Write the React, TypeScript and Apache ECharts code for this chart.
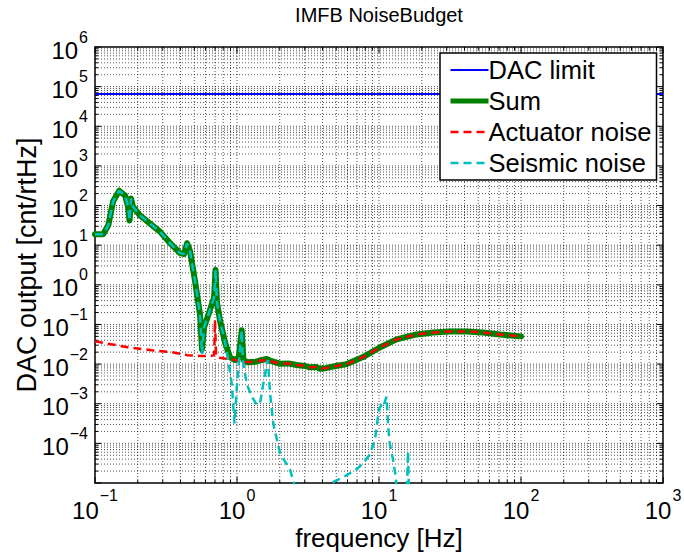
import React, { useEffect, useRef } from "react";
import * as echarts from "echarts";

// ---- data -------------------------------------------------------------
const dacFreq = [0.1, 1000];
const dacLimit = [65536, 65536];

const sumFreq = [
  0.1, 0.114, 0.124, 0.134, 0.148, 0.163, 0.171, 0.175, 0.1795, 0.185, 0.208,
  0.244, 0.287, 0.338, 0.397, 0.424, 0.445, 0.467, 0.506, 0.549, 0.567, 0.586,
  0.646, 0.689, 0.706, 0.723, 0.759, 0.823, 0.893, 0.968, 1.03, 1.08, 1.11,
  1.18, 1.36, 1.5, 1.62, 1.75, 2.01, 2.3, 2.63, 3.0, 3.27, 3.6, 3.84, 4.2,
  4.52, 5.2, 5.93, 7.71, 10.2, 13.3, 18.4, 24, 31.6, 41.5, 54, 71, 100,
];
const sumValues = [
  18.8, 18.8, 31.6, 126, 237, 178, 94, 42, 150, 94, 56,
  35, 22, 11.2, 6.3, 6.0, 11.2, 7.1, 1.26, 0.178, 0.0237, 0.084,
  0.237, 0.47, 2.37, 0.355, 0.126, 0.0355, 0.015, 0.0126, 0.015, 0.071, 0.0127,
  0.0112, 0.0115, 0.0127, 0.0135, 0.0118, 0.0102, 0.0104, 0.0095, 0.009, 0.0083, 0.0085, 0.0076, 0.0079,
  0.0084, 0.0092, 0.01, 0.015, 0.0266, 0.042, 0.056, 0.063, 0.0668, 0.0668, 0.063, 0.056, 0.05,
];

const actuatorFreq = [
  0.1, 0.13, 0.17, 0.25, 0.35, 0.45, 0.55, 0.65, 0.69, 0.7, 0.712, 0.75,
  0.82, 0.9, 1.0, 1.08, 1.18, 1.36, 1.5, 1.62, 1.75, 2.01, 2.3, 2.63, 3.0,
  3.27, 3.6, 3.84, 4.2, 4.52, 5.2, 5.93, 7.71, 10.2, 13.3, 18.4, 24, 31.6,
  41.5, 54, 71, 100,
];
const actuatorValues = [
  0.0376, 0.0316, 0.0267, 0.0224, 0.02, 0.0168, 0.016, 0.0158, 0.017, 0.13, 0.016, 0.0145,
  0.0138, 0.0133, 0.0125, 0.012, 0.0112, 0.0115, 0.0125, 0.0122, 0.0116, 0.0102, 0.0104, 0.0095, 0.009,
  0.0083, 0.0085, 0.0076, 0.0079, 0.0084, 0.0092, 0.01, 0.015, 0.0266, 0.042, 0.056, 0.063, 0.0668,
  0.0668, 0.063, 0.056, 0.05,
];

const seismicFreq = [
  0.1, 0.114, 0.124, 0.134, 0.148, 0.163, 0.171, 0.175, 0.1795, 0.185, 0.208,
  0.244, 0.287, 0.338, 0.397, 0.424, 0.445, 0.467, 0.506, 0.549, 0.567, 0.586,
  0.646, 0.689, 0.706, 0.723, 0.759, 0.823, 0.87, 0.92, 0.96, 1.0, 1.05, 1.08,
  1.1, 1.17, 1.27, 1.38, 1.45, 1.52, 1.62, 1.65, 1.71, 1.8, 2.01, 2.36, 2.56,
  3.2, 4.0, 4.64, 5.77, 6.25, 7.11, 7.71, 8.65, 9.37, 9.68, 10.0, 10.45, 10.7,
  11.3, 11.6, 11.9, 12.5, 13.0, 13.5, 14.5, 15.6, 16.0, 16.4, 20, 50, 100,
];
const seismicValues = [
  18.8, 18.8, 31.6, 126, 237, 178, 94, 42, 150, 94, 56,
  35, 22, 11.2, 6.3, 6.0, 11.2, 7.1, 1.26, 0.178, 0.018, 0.084,
  0.237, 0.47, 2.37, 0.355, 0.126, 0.0355, 0.012, 0.003, 3.2e-4, 0.003, 0.025, 0.071,
  0.0126, 3.2e-3, 1.5e-3, 9.4e-4, 9.9e-4, 2.7e-3, 0.01, 0.0126, 1.8e-3, 3.2e-4, 5.6e-5, 2.2e-5, 8e-6,
  1e-6, 3e-6, 1e-5, 1.5e-5, 1.78e-5, 2.37e-5, 3.16e-5, 5.3e-5, 1.26e-4, 3e-4, 7.5e-4, 9.4e-4, 8.5e-4,
  1.5e-3, 2.7e-4, 1e-4, 4.2e-5, 1.8e-5, 5e-6, 1e-6, 2e-6, 6.3e-5, 2e-6, 1e-7, 1e-8, 1e-9,
];

const X_MIN = 0.1;
const X_MAX = 1000;
const Y_MIN = 1e-5;
const Y_MAX = 1e6;

// decade grid positions (1..9 x 10^n), flagged 1 for the decade itself
const decadeSteps = (lo: number, hi: number) => {
  const out: number[][] = [];
  for (let e = lo; e < hi; e++) {
    for (let k = 1; k <= 9; k++) out.push([k * Math.pow(10, e), k === 1 ? 1 : 0]);
  }
  out.push([Math.pow(10, hi), 1]);
  return out;
};
const xGridValues = decadeSteps(-1, 3);
const yGridValues = decadeSteps(-5, 6);

const FONT = "'Liberation Sans', Arial, Helvetica, sans-serif";
const BASE_SIZE = 24;
const SUP_SIZE = 16;

// "10" with a raised exponent, built from two text pieces
const exponentText = (v: number) => {
  const e = Math.round(Math.log10(v));
  return e < 0 ? "\u2212" + -e : String(e);
};
const supWidth = (s: string) =>
  s.split("").reduce((w, ch) => w + (ch === "\u2212" ? 0.584 : 0.556) * SUP_SIZE, 0);
const BASE_WIDTH = 2 * 0.556 * BASE_SIZE;

const powerLabel = (v: number, left: number, baseCy: number, supCy: number) => {
  const sup = exponentText(v);
  return [
    {
      type: "text",
      x: left,
      y: baseCy,
      style: { text: "10", fontSize: BASE_SIZE, fontFamily: FONT, fill: "#000", align: "left", verticalAlign: "middle" },
    },
    {
      type: "text",
      x: left + BASE_WIDTH + 1,
      y: supCy,
      style: { text: sup, fontSize: SUP_SIZE, fontFamily: FONT, fill: "#000", align: "left", verticalAlign: "middle" },
    },
  ];
};

const GRID_STYLE = { stroke: "#000", lineWidth: 1, lineDash: [1, 2], opacity: 0.68 };
const TICK_STYLE = { stroke: "#000", lineWidth: 1 };

export default function App() {
  const ref = useRef<HTMLDivElement>(null);

  useEffect(() => {
    if (!ref.current) return;
    const chart = echarts.init(ref.current, null, { renderer: "svg" });

    const verticalGrid = (params: any, api: any) => {
      const x = api.value(0);
      const major = api.value(1) === 1;
      const pb = api.coord([x, Y_MIN]);
      const pt = api.coord([x, Y_MAX]);
      const len = major ? 6 : 3;
      const children: any[] = [];
      if (x > X_MIN * 1.001 && x < X_MAX * 0.999) {
        children.push({ type: "line", shape: { x1: pb[0], y1: pb[1], x2: pt[0], y2: pt[1] }, style: GRID_STYLE });
      }
      children.push({ type: "line", shape: { x1: pb[0], y1: pb[1], x2: pb[0], y2: pb[1] - len }, style: TICK_STYLE });
      children.push({ type: "line", shape: { x1: pt[0], y1: pt[1], x2: pt[0], y2: pt[1] + len }, style: TICK_STYLE });
      if (major) {
        const total = BASE_WIDTH + 1 + supWidth(exponentText(x));
        children.push(...powerLabel(x, pb[0] - total / 2, pb[1] + 27, pb[1] + 12));
      }
      return { type: "group", children };
    };

    const horizontalGrid = (params: any, api: any) => {
      const y = api.value(1);
      const major = api.value(2) === 1;
      const pl = api.coord([X_MIN, y]);
      const pr = api.coord([X_MAX, y]);
      const len = major ? 6 : 3;
      const children: any[] = [];
      if (y > Y_MIN * 1.001 && y < Y_MAX * 0.999) {
        children.push({ type: "line", shape: { x1: pl[0], y1: pl[1], x2: pr[0], y2: pr[1] }, style: GRID_STYLE });
      }
      children.push({ type: "line", shape: { x1: pl[0], y1: pl[1], x2: pl[0] + len, y2: pl[1] }, style: TICK_STYLE });
      children.push({ type: "line", shape: { x1: pr[0], y1: pr[1], x2: pr[0] - len, y2: pr[1] }, style: TICK_STYLE });
      if (major && y > Y_MIN * 1.001) {
        const total = BASE_WIDTH + 1 + supWidth(exponentText(y));
        children.push(...powerLabel(y, pl[0] - 7 - total, pl[1] + 3, pl[1] - 10));
      }
      return { type: "group", children };
    };

    const zip = (xs: number[], ys: number[]) => xs.map((x, i) => [x, ys[i]]);

    chart.setOption({
      animation: false,
      backgroundColor: "#fff",
      textStyle: { fontFamily: FONT },
      grid: {
        left: 95,
        right: 21,
        top: 47,
        bottom: 71,
        show: true,
        borderColor: "#000",
        borderWidth: 1.5,
        backgroundColor: "#fff",
      },
      graphic: [
        {
          type: "text",
          x: 379,
          y: 15,
          style: {
            text: "IMFB NoiseBudget",
            fontSize: 20,
            fontFamily: FONT,
            fill: "#000",
            align: "center",
            verticalAlign: "middle",
          },
        },
      ],
      legend: {
        orient: "vertical",
        left: 440,
        top: 53,
        padding: [4, 5, 4, 8],
        backgroundColor: "#fff",
        borderColor: "#000",
        borderWidth: 1.5,
        borderRadius: 0,
        itemWidth: 38,
        itemHeight: 14,
        itemGap: 5,
        itemStyle: { opacity: 0 },
        textStyle: { fontSize: 25.5, fontFamily: FONT, color: "#000", padding: [0, 0, 0, -5] },
        data: [
          { name: "DAC limit", lineStyle: { width: 2 } },
          { name: "Sum", lineStyle: { width: 5, cap: "butt" } },
          { name: "Actuator noise", lineStyle: { width: 2.5 } },
          { name: "Seismic noise", lineStyle: { width: 2.5 } },
        ],
      },
      xAxis: {
        type: "log",
        logBase: 10,
        min: X_MIN,
        max: X_MAX,
        name: "frequency [Hz]",
        nameLocation: "middle",
        nameGap: 42,
        nameTextStyle: { fontSize: 26, fontFamily: FONT, color: "#000" },
        axisLine: { show: false },
        axisTick: { show: false },
        splitLine: { show: false },
        axisLabel: { show: false },
      },
      yAxis: {
        type: "log",
        logBase: 10,
        min: Y_MIN,
        max: Y_MAX,
        name: "DAC output [cnt/rtHz]",
        nameLocation: "middle",
        nameGap: 55,
        nameTextStyle: { fontSize: 27, fontFamily: FONT, color: "#000" },
        axisLine: { show: false },
        axisTick: { show: false },
        splitLine: { show: false },
        axisLabel: { show: false },
      },
      series: [
        {
          type: "custom",
          name: "xgrid",
          silent: true,
          z: 1,
          clip: false,
          renderItem: verticalGrid,
          encode: { x: 0, y: 2 },
          data: xGridValues.map((d) => [d[0], d[1], 1]),
        },
        {
          type: "custom",
          name: "ygrid",
          silent: true,
          z: 1,
          clip: false,
          renderItem: horizontalGrid,
          encode: { x: 0, y: 1 },
          data: yGridValues.map((d) => [1, d[0], d[1]]),
        },
        {
          type: "line",
          name: "DAC limit",
          z: 3,
          symbol: "none",
          data: zip(dacFreq, dacLimit),
          lineStyle: { color: "#0000ff", width: 2 },
          itemStyle: { color: "#0000ff" },
        },
        {
          type: "line",
          name: "Sum",
          z: 4,
          symbol: "none",
          data: zip(sumFreq, sumValues),
          lineStyle: { color: "#008000", width: 6, join: "round", cap: "round" },
          itemStyle: { color: "#008000" },
        },
        {
          type: "line",
          name: "Actuator noise",
          z: 5,
          symbol: "none",
          data: zip(actuatorFreq, actuatorValues),
          lineStyle: { color: "#ff0000", width: 2.5, type: [8, 5] },
          itemStyle: { color: "#ff0000" },
        },
        {
          type: "line",
          name: "Seismic noise",
          z: 6,
          symbol: "none",
          data: zip(seismicFreq, seismicValues),
          lineStyle: { color: "#00bfbf", width: 2.5, type: [8, 5] },
          itemStyle: { color: "#00bfbf" },
        },
      ],
    });

    return () => chart.dispose();
  }, []);

  return (
    <div
      ref={ref}
      style={{ position: "fixed", left: 0, top: 0, width: 684, height: 556, background: "#fff" }}
    />
  );
}
